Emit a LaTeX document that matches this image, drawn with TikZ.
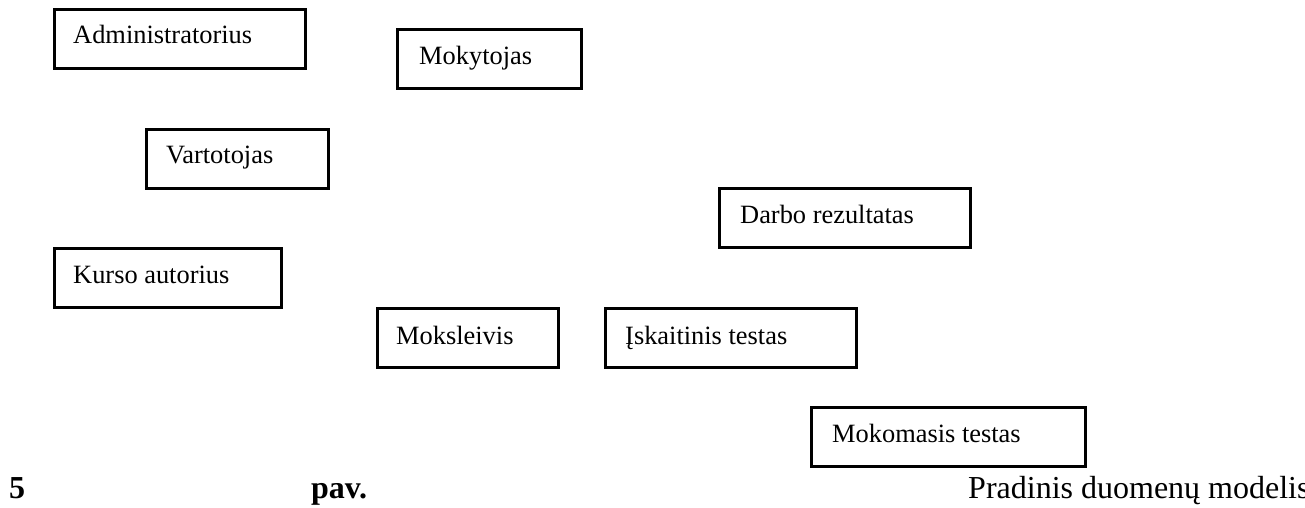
\documentclass[tikz,border=0pt]{standalone}
\usepackage{fontspec}
\setmainfont{Liberation Serif}
\begin{document}
\begin{tikzpicture}[x=1pt,y=-1pt,
  box/.style={draw, line width=3.2pt, inner sep=0pt, outer sep=0pt, anchor=north west},
  lbl/.style={inner sep=0pt, anchor=base west, font=\fontsize{26.4}{30}\selectfont},
  captxt/.style={inner sep=0pt, anchor=base west, font=\fontsize{32}{36}\selectfont},
  capbold/.style={captxt, font=\fontsize{32}{36}\selectfont\bfseries}]
\useasboundingbox (0,0) rectangle (1305,507);

% entity boxes
\node[box, minimum width=250.8pt, minimum height=58.8pt] (admin) at (54.6,9.6) {};
\node[box, minimum width=183.8pt, minimum height=58.8pt] (moky)  at (397.6,29.6) {};
\node[box, minimum width=181.8pt, minimum height=58.8pt] (vart)  at (146.6,129.6) {};
\node[box, minimum width=250.8pt, minimum height=58.8pt] (darbo) at (719.6,188.6) {};
\node[box, minimum width=226.8pt, minimum height=58.8pt] (kurso) at (54.6,248.6) {};
\node[box, minimum width=180.8pt, minimum height=58.8pt] (moks)  at (377.6,308.6) {};
\node[box, minimum width=250.8pt, minimum height=58.8pt] (isk)   at (605.6,308.6) {};
\node[box, minimum width=273.8pt, minimum height=58.8pt] (mokom) at (811.6,407.6) {};

% entity names
\node[lbl] (admin-t) at (73,43.5)  {Administratorius};
\node[lbl] (moky-t)  at (419,64)   {Mokytojas};
\node[lbl] (vart-t)  at (166,163)  {Vartotojas};
\node[lbl] (darbo-t) at (740,223)  {Darbo rezultatas};
\node[lbl] (kurso-t) at (73,283)   {Kurso autorius};
\node[lbl] (moks-t)  at (396,344)  {Moksleivis};
\node[lbl] (isk-t)   at (625,344)  {Įskaitinis testas};
\node[lbl] (mokom-t) at (832,442)  {Mokomasis testas};

% caption line
\node[capbold] (capnum)   at (9,498)   {5};
\node[capbold] (cappav)   at (311,498) {pav.};
\node[captxt]  (captitle) at (968,498) {Pradinis duomenų modelis};
\end{tikzpicture}
\end{document}
